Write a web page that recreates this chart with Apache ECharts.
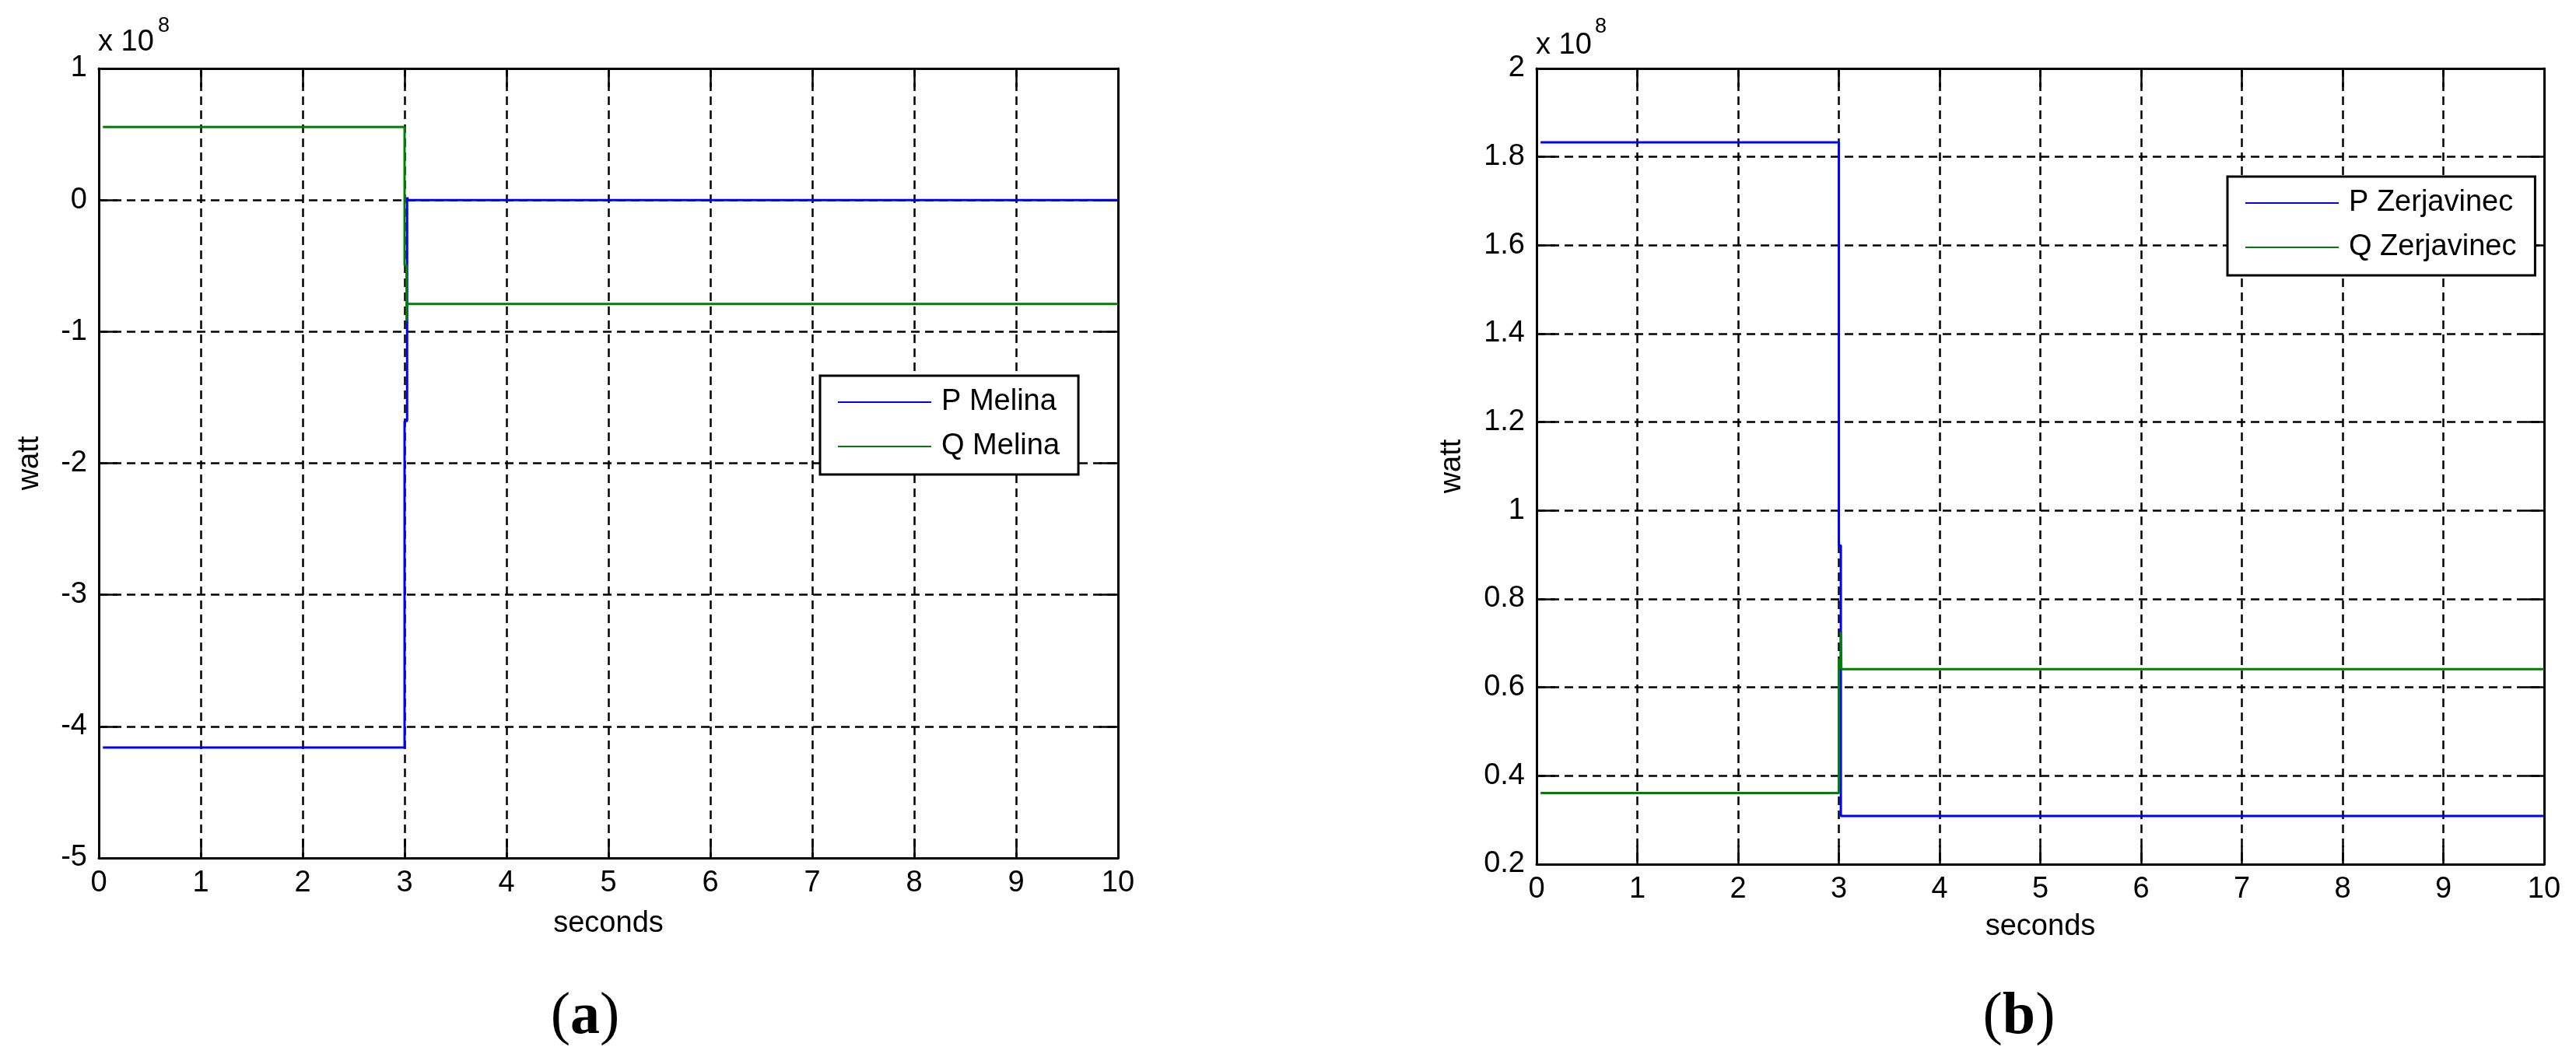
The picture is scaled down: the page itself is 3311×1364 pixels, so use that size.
<!DOCTYPE html>
<html>
<head>
<meta charset="utf-8">
<script src="https://cdn.jsdelivr.net/npm/echarts@6/dist/echarts.min.js"></script>
<style>
html,body{margin:0;padding:0;background:#fff;}
#chart{width:3311px;height:1364px;}
</style>
</head>
<body>
<div id="chart"></div>
<script>
// ---- data (time in seconds, power in watt) ----
const xTicks = [0, 10, 1];                 // min, max, step (seconds)
const yTicksMelina = [-5e8, 1e8, 1e8];     // min, max, step
const yTicksZerj = [0.2e8, 2e8, 0.2e8];

const tMelinaP = [0.04, 3.0, 3.0, 3.025, 3.025, 3.035, 10];
const pMelina  = [-4.16e8, -4.16e8, -1.68e8, -1.68e8, 0.02e8, 0, 0];
const tMelinaQ = [0.04, 3.0, 3.0, 3.02, 3.02, 3.025, 10];
const qMelina  = [0.555e8, 0.555e8, -0.495e8, -0.495e8, -0.92e8, -0.79e8, -0.79e8];

const tZerjP = [0.04, 3.0, 3.0, 3.02, 3.02, 10];
const pZerj  = [1.833e8, 1.833e8, 0.921e8, 0.921e8, 0.309e8, 0.309e8];
const tZerjQ = [0.04, 3.0, 3.0, 3.02, 3.02, 3.025, 10];
const qZerj  = [0.361e8, 0.361e8, 0.663e8, 0.663e8, 0.725e8, 0.641e8, 0.641e8];

const names = ['P Melina', 'Q Melina', 'P Zerjavinec', 'Q Zerjavinec'];
const xName = 'seconds';
const yName = 'watt';
const panelLabels = ['a', 'b'];

// ---- styling ----
const FONT = '"Liberation Sans", Arial, Helvetica, sans-serif';
const FS = 38;
const BLUE = '#0000ff';
const GREEN = '#008000';

function zip(t, v) { return t.map((x, i) => [x, v[i]]); }
function fmtY(v) { return String(Number((v / 1e8).toFixed(1))); }

const grids = [
  { left: 127, top: 88, width: 1310, height: 1015 },
  { left: 1975, top: 88, width: 1295, height: 1023 }
];

function xAxes(gi, nameGap) {
  const base = {
    type: 'value', gridIndex: gi, min: xTicks[0], max: xTicks[1], interval: xTicks[2],
    axisLine: { show: true, onZero: false, lineStyle: { color: '#000', width: 3 } },
    axisTick: { show: true, inside: true, length: 24, lineStyle: { color: '#000', width: 2.5 } }
  };
  return [
    Object.assign({}, base, {
      position: 'bottom',
      name: xName, nameLocation: 'middle', nameGap: nameGap,
      nameTextStyle: { fontFamily: FONT, fontSize: FS, color: '#000' },
      axisLabel: { show: true, fontFamily: FONT, fontSize: FS, color: '#000', margin: 14 },
      splitLine: { show: true, lineStyle: { color: '#000', width: 2.5, type: [11, 7] } }
    }),
    Object.assign({}, base, {
      position: 'top', axisLabel: { show: false }, splitLine: { show: false }
    })
  ];
}

function yAxes(gi, ticks, nameGap) {
  const base = {
    type: 'value', gridIndex: gi, min: ticks[0], max: ticks[1], interval: ticks[2],
    axisLine: { show: true, onZero: false, lineStyle: { color: '#000', width: 3 } },
    axisTick: { show: true, inside: true, length: 24, lineStyle: { color: '#000', width: 2.5 } }
  };
  return [
    Object.assign({}, base, {
      position: 'left',
      name: yName, nameLocation: 'middle', nameGap: nameGap, nameRotate: 90,
      nameTextStyle: { fontFamily: FONT, fontSize: FS, color: '#000' },
      axisLabel: { show: true, fontFamily: FONT, fontSize: FS, color: '#000', margin: 15, formatter: fmtY },
      splitLine: { show: true, lineStyle: { color: '#000', width: 2.5, type: [11, 7] } }
    }),
    Object.assign({}, base, {
      position: 'right', axisLabel: { show: false }, splitLine: { show: false }
    })
  ];
}

function lineSeries(name, data, color, xi, yi) {
  return {
    name: name, type: 'line', data: data, xAxisIndex: xi, yAxisIndex: yi,
    symbol: 'none', showSymbol: false, animation: false,
    lineStyle: { color: color, width: 3 }, itemStyle: { color: color }
  };
}

function legendCfg(left, top, data) {
  return {
    orient: 'vertical', left: left, top: top, data: data,
    backgroundColor: '#fff', borderColor: '#000', borderWidth: 3, borderRadius: 0,
    padding: [12, 24, 14, 23], itemGap: 13, itemWidth: 120, itemHeight: 14,
    icon: 'path://M0,6 L120,6 L120,8 L0,8 Z',
    textStyle: { fontFamily: FONT, fontSize: FS, color: '#000', lineHeight: 44, padding: [0, 0, 0, 8] }
  };
}

const chart = echarts.init(document.getElementById('chart'), null, { renderer: 'canvas' });

chart.setOption({
  backgroundColor: '#fff',
  animation: false,
  grid: grids,
  xAxis: [].concat(xAxes(0, 66), xAxes(1, 62)),
  yAxis: [].concat(yAxes(0, yTicksMelina, 69), yAxes(1, yTicksZerj, 89)),
  legend: [
    legendCfg(1054, 483, [names[0], names[1]]),
    legendCfg(2863, 227, [names[2], names[3]])
  ],
  series: [
    lineSeries(names[0], zip(tMelinaP, pMelina), BLUE, 0, 0),
    lineSeries(names[1], zip(tMelinaQ, qMelina), GREEN, 0, 0),
    lineSeries(names[2], zip(tZerjP, pZerj), BLUE, 2, 2),
    lineSeries(names[3], zip(tZerjQ, qZerj), GREEN, 2, 2)
  ],
  graphic: [
    { type: 'text', left: 126, top: 36, style: { text: 'x 10', fontFamily: FONT, fontSize: FS, fill: '#000' } },
    { type: 'text', left: 203, top: 20, style: { text: '8', fontFamily: FONT, fontSize: 27, fill: '#000' } },
    { type: 'text', left: 1974, top: 40, style: { text: 'x 10', fontFamily: FONT, fontSize: FS, fill: '#000' } },
    { type: 'text', left: 2050, top: 21, style: { text: '8', fontFamily: FONT, fontSize: 27, fill: '#000' } },
    { type: 'text', x: 752, y: 1308, style: {
        text: '({b|' + panelLabels[0] + '})', fontFamily: '"Liberation Serif", "Times New Roman", serif',
        fontSize: 76, fill: '#000', align: 'center', verticalAlign: 'middle',
        rich: { b: { fontWeight: 'bold', fontSize: 76, fontFamily: '"Liberation Serif", "Times New Roman", serif' } } } },
    { type: 'text', x: 2595, y: 1308, style: {
        text: '({b|' + panelLabels[1] + '})', fontFamily: '"Liberation Serif", "Times New Roman", serif',
        fontSize: 76, fill: '#000', align: 'center', verticalAlign: 'middle',
        rich: { b: { fontWeight: 'bold', fontSize: 76, fontFamily: '"Liberation Serif", "Times New Roman", serif' } } } }
  ]
});
</script>
</body>
</html>
